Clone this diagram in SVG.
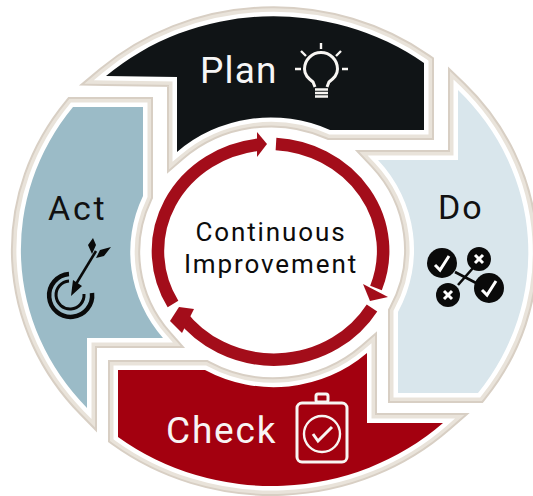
<svg xmlns="http://www.w3.org/2000/svg" width="533" height="496" viewBox="0 0 533 496">
<style>
.b1{fill:none;stroke:#d8cfc4;stroke-width:20;stroke-linejoin:miter}
.b2{fill:none;stroke:#e9e3da;stroke-width:16;stroke-linejoin:miter}
.b3{fill:none;stroke:#fff;stroke-width:9;stroke-linejoin:miter}
text{font-family:Roboto,"Liberation Sans",sans-serif}
.lab{font-size:37px;letter-spacing:1.200px}
.lab2{font-size:34px;letter-spacing:2px;fill:#111}
.cen{font-size:26px;fill:#0c0c0c;text-anchor:middle;letter-spacing:1.900px}
.ring{fill:none;stroke:#a30d1a;stroke-width:12.500}
.head{fill:#a30d1a}
.w{fill:none;stroke:#f8f6f3;stroke-width:3}
.k{fill:none;stroke:#0a0a0a;stroke-width:2.600}
.kw{fill:none;stroke:#fff;stroke-width:3}
</style>
<defs>
<path id="pPlan" d="M106 76L177 77L177 152A140 134 0 0 1 330 130L424 130L424 63A251 234 0 0 0 106 76Z"/>
<path id="pDo" d="M458 90L458 160L378 160A140 134 0 0 1 398 312L398 393L478 393A251 234 0 0 0 458 90Z"/>
<path id="pCheck" d="M118 370L205 370A140 134 0 0 0 367 353L367 423L443 423A251 234 0 0 1 118 437Z"/>
<path id="pAct" d="M73 107L143 107L143 196A140 134 0 0 0 163 338L87 338L87 408A251 234 0 0 1 73 107Z"/>
</defs>
<rect width="533" height="496" fill="#fff"/>
<g id="node-plan">
<use href="#pPlan" class="b1"/><use href="#pPlan" class="b2"/><use href="#pPlan" class="b3"/>
<use href="#pPlan" fill="#101416"/>
<text x="200" y="83" class="lab" fill="#f6f6f6">Plan</text>
<g class="w">
<path d="M315 87L313 82C308 78 304.500 75 304.500 69A16.500 16.500 0 0 1 337.500 69C337.500 75 334 78 329 82L327 87"/>
<path d="M321 43V49M301 51L306 56M341 51L336 56M295 69H301M342 69H348M315 89.500H328M315 93H328M315 96.500H328" stroke-width="2.400"/>
</g>
</g>
<g id="node-do">
<use href="#pDo" class="b1"/><use href="#pDo" class="b2"/><use href="#pDo" class="b3"/>
<use href="#pDo" fill="#d9e6ec"/>
<text x="438" y="219" class="lab2">Do</text>
<path class="k" d="M455 272L478 284M473 268L458 285"/>
<circle cx="442" cy="263" r="15" fill="#0a0a0a"/><circle cx="489" cy="288" r="15" fill="#0a0a0a"/>
<circle cx="479" cy="259" r="12" fill="#0a0a0a"/><circle cx="448" cy="295" r="12" fill="#0a0a0a"/>
<path class="kw" d="M435 265L440 270L449 256M482 290L487 295L496 281M475 255L483 263M483 255L475 263M444 291L452 299M452 291L444 299"/>
</g>
<g id="node-check">
<use href="#pCheck" class="b1"/><use href="#pCheck" class="b2"/><use href="#pCheck" class="b3"/>
<use href="#pCheck" fill="#a3000f"/>
<text x="166" y="443" class="lab" fill="#f8f4f4" style="letter-spacing:1.800px">Check</text>
<g class="w">
<rect x="297" y="403" width="50" height="59" rx="5"/>
<rect x="316" y="394" width="12" height="8" rx="2"/>
<circle cx="322" cy="434" r="18" stroke-width="2.400"/>
<path d="M313 434L318 441L332 427"/>
</g>
</g>
<g id="node-act">
<use href="#pAct" class="b1"/><use href="#pAct" class="b2"/><use href="#pAct" class="b3"/>
<use href="#pAct" fill="#9bbbc7"/>
<text x="48" y="220" class="lab2" style="letter-spacing:2.700px">Act</text>
<path class="k" style="stroke-width:4.500" d="M69 274A21.500 21.500 0 1 0 92 293"/>
<path class="k" style="stroke-width:3" d="M69 281A14 14 0 1 0 84 294"/>
<path class="k" style="stroke-width:2.600" d="M73 289L96 251"/>
<path fill="#0a0a0a" d="M71 296L73 280L82 286ZM93 238L96 245L92 254L88 245ZM111 247L104 256L96 258L100 250Z"/>
</g>
<ellipse cx="271.500" cy="251" rx="129" ry="121" fill="#fff"/>
<g id="connectors">
<path class="ring" d="M173 304A114.500 107 0 0 1 258 144.800"/>
<path class="head" d="M257 132L267 144L257 157Z"/>
<path class="ring" d="M276 144A114.500 107 0 0 1 376 288"/>
<path class="head" d="M363 284L388 297L370 301Z"/>
<path class="ring" d="M372 308A114.500 107 0 0 1 181 315"/>
<path class="head" d="M170 321L179 307L194 309L182 333Z"/>
</g>
<g id="node-center">
<text x="271" y="241" class="cen">Continuous</text>
<text x="271" y="273" class="cen">Improvement</text>
</g>
</svg>
